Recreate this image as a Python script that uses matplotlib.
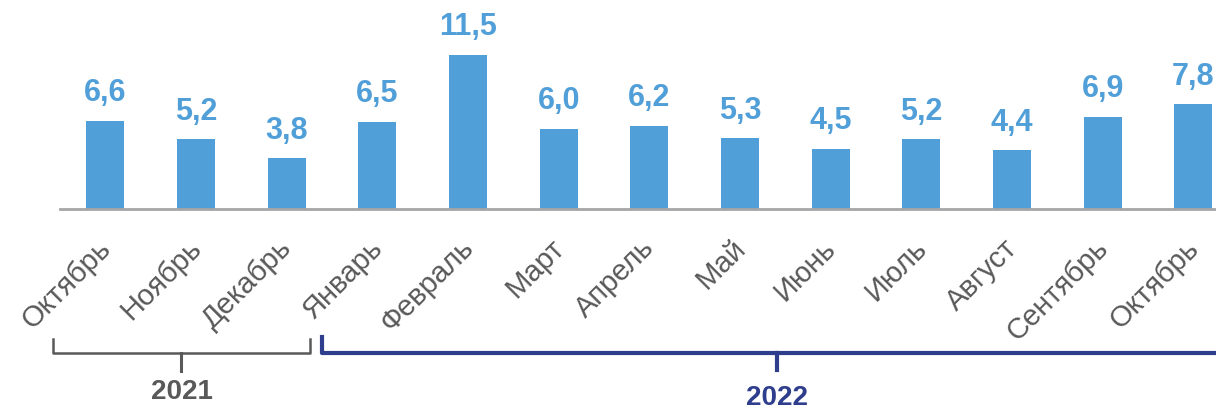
import numpy as np
import matplotlib.pyplot as plt
import matplotlib.transforms as mtransforms

plt.rcParams['font.family'] = ['Liberation Sans', 'DejaVu Sans']

# данные
months = ["Октябрь", "Ноябрь", "Декабрь", "Январь", "Февраль", "Март", "Апрель",
          "Май", "Июнь", "Июль", "Август", "Сентябрь", "Октябрь"]
values = [6.6, 5.2, 3.8, 6.5, 11.5, 6.0, 6.2, 5.3, 4.5, 5.2, 4.4, 6.9, 7.8]
years = ["2021", "2022"]

bar_color = "#519FD8"
gray = "#595959"
navy = "#2E3D8C"

W, H = 1216, 409
fig = plt.figure(figsize=(W / 100, H / 100), dpi=100)
ax = fig.add_axes([60 / W, (H - 209) / H, 1 - 60 / W, 209 / H])

x = np.arange(len(values))
bars = ax.bar(x, values, width=0.42, color=bar_color, zorder=2)

for xi, v in zip(x, values):
    ax.annotate(f"{v:.1f}".replace(".", ","), (xi, v), xytext=(0, 14),
                textcoords="offset points", ha="center", va="baseline",
                fontsize=22, fontweight="bold", color=bar_color)

ax.set_xlim(-0.5, 12.25)
ax.set_ylim(0, 15.6)
for s in ["top", "right", "left"]:
    ax.spines[s].set_visible(False)
ax.spines["bottom"].set_color("#A6A6A6")
ax.spines["bottom"].set_linewidth(2)
ax.set_yticks([])
ax.set_xticks(x)
ax.set_xticklabels(months, rotation=45, ha="right", va="center",
                   rotation_mode="anchor", fontsize=21, color=gray)
ax.tick_params(axis="x", length=0, pad=25)
offset = mtransforms.ScaledTranslation(1 / 100, 0, fig.dpi_scale_trans)
for lbl in ax.get_xticklabels():
    lbl.set_transform(lbl.get_transform() + offset)

# скобки с годами
tr = mtransforms.blended_transform_factory(ax.transData, fig.transFigure)
fy = lambda p: 1 - p / H

x0, x1, xm = -0.573, 2.26, 0.84
ax.plot([x0, x0, x1, x1], [fy(339), fy(353), fy(353), fy(339)], color=gray,
        lw=1.8, transform=tr, clip_on=False)
ax.plot([xm, xm], [fy(353), fy(371)], color=gray, lw=2.2, transform=tr, clip_on=False)
ax.text(xm, fy(392), years[0], transform=tr, ha="center", va="center",
        fontsize=20, fontweight="bold", color=gray)

x0, x1, xm = 2.39, 13.0, 7.41
ax.plot([x0, x0, x1], [fy(337), fy(353), fy(353)], color=navy,
        lw=3, transform=tr, clip_on=False)
ax.plot([xm, xm], [fy(353), fy(370)], color=navy, lw=3, transform=tr, clip_on=False)
ax.text(xm, fy(398), years[1], transform=tr, ha="center", va="center",
        fontsize=20, fontweight="bold", color=navy)

fig.savefig("out.png", dpi=100)
